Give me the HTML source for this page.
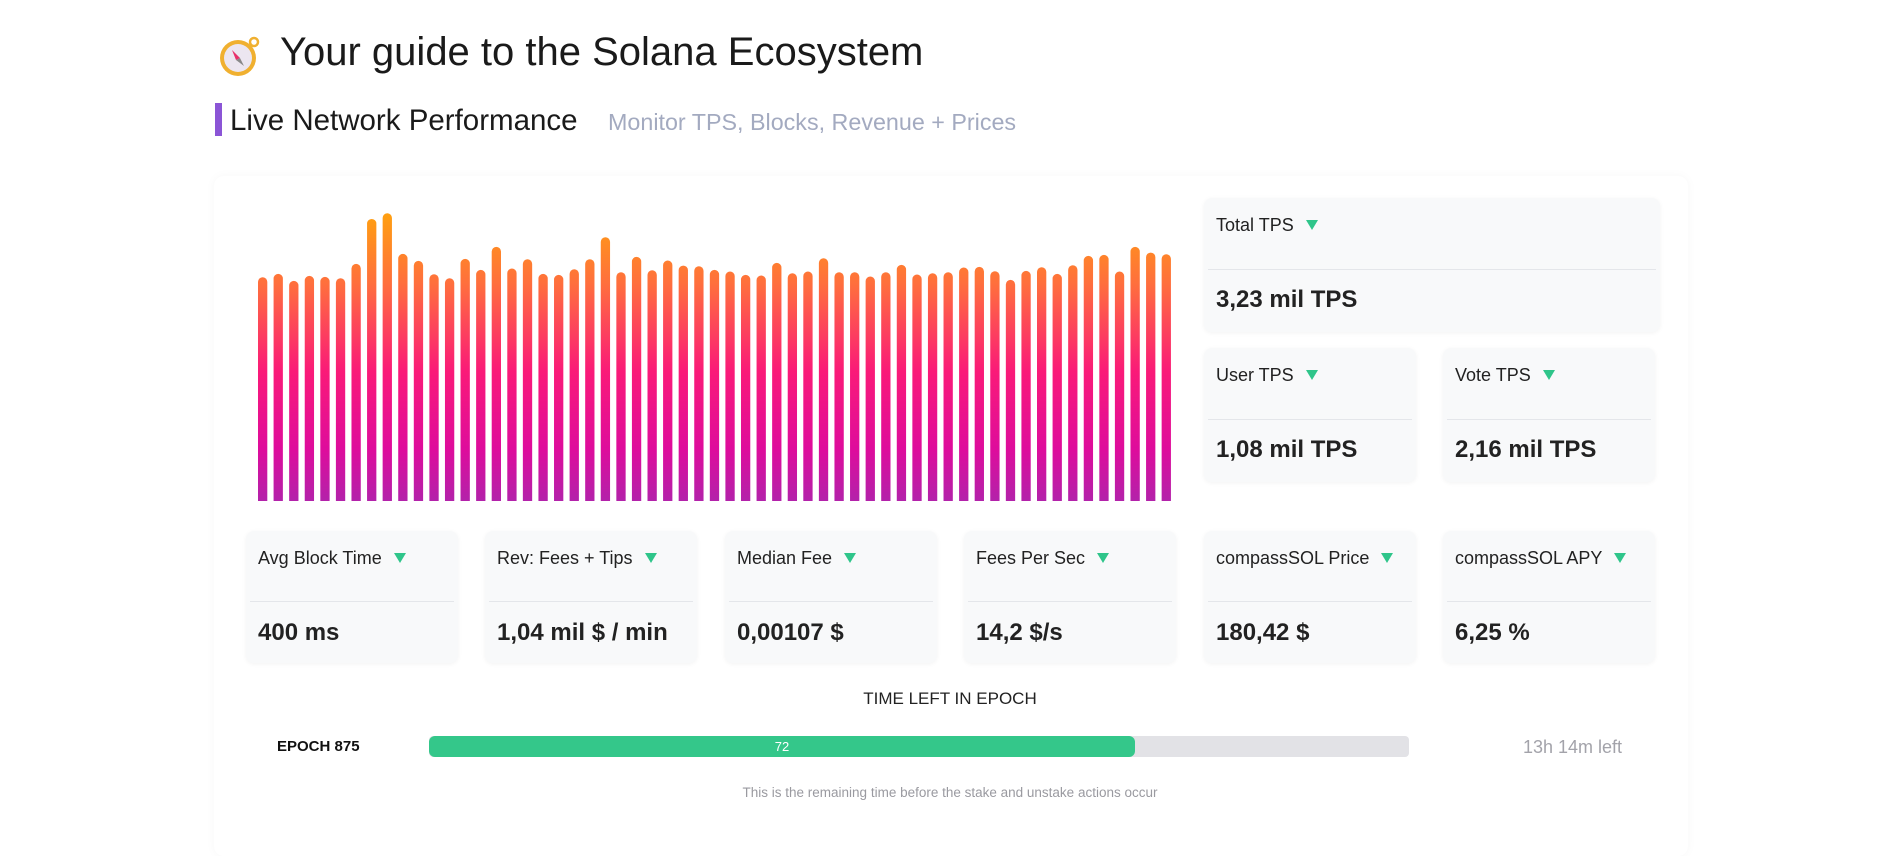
<!DOCTYPE html>
<html><head><meta charset="utf-8"><style>
body{margin:0;width:1902px;height:832px;background:#fff;position:relative;overflow:hidden;font-family:"Liberation Sans",sans-serif;}
.a{position:absolute;white-space:nowrap;}
.panel{position:absolute;left:214px;top:176px;width:1474px;height:680px;border-radius:10px;box-shadow:0 0 10px rgba(0,0,0,0.035);}
.card{position:absolute;background:#f8f9fa;border-radius:8px;box-shadow:0 1px 5px rgba(0,0,0,0.05);}
.card .lb{position:absolute;left:12px;top:17px;font-size:18px;color:#222;white-space:nowrap;}
.card .lb i{display:inline-block;width:0;height:0;border-left:6px solid transparent;border-right:6px solid transparent;border-top:10px solid #2fc58a;margin-left:12px;vertical-align:1px;}
.card .dv{position:absolute;left:4px;right:4px;height:1px;background:#e4e6ea;}
.card .v{position:absolute;left:12px;font-size:24px;font-weight:bold;color:#222;font-family:"Liberation Sans",sans-serif;white-space:nowrap;}
</style></head><body>
<div class="panel"></div>
<svg class="a" style="left:218px;top:34px" width="46" height="46" viewBox="0 0 46 46">
<circle cx="20" cy="24" r="18" fill="#f0b030"/><circle cx="20" cy="24" r="14" fill="#ece6f0"/>
<circle cx="36" cy="8" r="4" fill="none" stroke="#f0b030" stroke-width="2.5"/>
<polygon points="14,16 22,24 18,26" fill="#e8306a"/><polygon points="26,32 18,26 22,24" fill="#888"/></svg>
<div class="a" style="left:280px;top:30px;font-size:40px;color:#1a1a1a;">Your guide to the Solana Ecosystem</div>
<div class="a" style="left:215px;top:103px;width:7px;height:33px;background:#8b55d6;"></div>
<div class="a" style="left:230px;top:104px;font-size:29.5px;color:#1a1a1a;">Live Network Performance</div>
<div class="a" style="left:608px;top:109px;font-size:23.3px;color:#a3aac0;">Monitor TPS, Blocks, Revenue + Prices</div>
<svg class="a" style="left:0;top:0" width="1902" height="520" id="bars">
<defs><linearGradient id="g" gradientUnits="userSpaceOnUse" x1="0" y1="213" x2="0" y2="501">
<stop offset="0" stop-color="#ffa010"/><stop offset="0.25" stop-color="#ff6e3e"/><stop offset="0.55" stop-color="#fa1a78"/><stop offset="0.82" stop-color="#de0c9c"/><stop offset="1" stop-color="#b322aa"/></linearGradient></defs>
</svg>
<script>
var t=[265,255,276,261,264,268,225,90,73,195,216,256,268,210,243,174,239,211,255,258,241,211,145,250,204,244,215,230,232,243,248,258,260,222,253,248,208,250,250,263,250,228,257,253,250,236,234,247,273,246,235,255,229,201,198,248,174,191,196];
var s='';for(var i=0;i<t.length;i++){var h=288*(937-t[i])/865,x=258+i*15.58,y=501-h;
s+='<path d="M'+x+' 501 V'+(y+4.6)+' a4.65 4.65 0 0 1 9.3 0 V501 Z" fill="url(#g)"/>';}
document.getElementById('bars').insertAdjacentHTML('beforeend',s);
</script>
<div class="card" style="left:1204px;top:198px;width:456px;height:134px"><div class="lb">Total TPS<i></i></div><div class="dv" style="top:71px"></div><div class="v" style="top:88px">3,23 mil TPS</div></div>
<div class="card" style="left:1204px;top:348px;width:212px;height:134px"><div class="lb">User TPS<i></i></div><div class="dv" style="top:71px"></div><div class="v" style="top:88px">1,08 mil TPS</div></div>
<div class="card" style="left:1443px;top:348px;width:212px;height:134px"><div class="lb">Vote TPS<i></i></div><div class="dv" style="top:71px"></div><div class="v" style="top:88px">2,16 mil TPS</div></div>
<div class="card" style="left:246px;top:531px;width:212px;height:132px"><div class="lb">Avg Block Time<i></i></div><div class="dv" style="top:70px"></div><div class="v" style="top:88px">400 ms</div></div>
<div class="card" style="left:485px;top:531px;width:212px;height:132px"><div class="lb">Rev: Fees + Tips<i></i></div><div class="dv" style="top:70px"></div><div class="v" style="top:88px">1,04 mil $ / min</div></div>
<div class="card" style="left:725px;top:531px;width:212px;height:132px"><div class="lb">Median Fee<i></i></div><div class="dv" style="top:70px"></div><div class="v" style="top:88px">0,00107 $</div></div>
<div class="card" style="left:964px;top:531px;width:212px;height:132px"><div class="lb">Fees Per Sec<i></i></div><div class="dv" style="top:70px"></div><div class="v" style="top:88px">14,2 $/s</div></div>
<div class="card" style="left:1204px;top:531px;width:212px;height:132px"><div class="lb">compassSOL Price<i></i></div><div class="dv" style="top:70px"></div><div class="v" style="top:88px">180,42 $</div></div>
<div class="card" style="left:1443px;top:531px;width:212px;height:132px"><div class="lb">compassSOL APY<i></i></div><div class="dv" style="top:70px"></div><div class="v" style="top:88px">6,25 %</div></div>
<div class="a" style="left:750px;width:400px;text-align:center;top:689px;font-size:17px;color:#222;">TIME LEFT IN EPOCH</div>
<div class="a" style="left:277px;top:738px;font-size:15px;font-weight:bold;color:#111;">EPOCH 875</div>
<div class="a" style="left:429px;top:736px;width:980px;height:21px;background:#e2e2e6;border-radius:4px;"></div>
<div class="a" style="left:429px;top:736px;width:706px;height:21px;background:#34c78a;border-radius:6px;"></div>
<div class="a" style="left:429px;width:706px;text-align:center;top:739px;font-size:13px;color:#fff;">72</div>
<div class="a" style="left:1523px;top:737px;font-size:18px;color:#a3a3aa;">13h 14m left</div>
<div class="a" style="left:650px;width:600px;text-align:center;top:785px;font-size:13.5px;color:#9a9aa0;">This is the remaining time before the stake and unstake actions occur</div>
</body></html>
